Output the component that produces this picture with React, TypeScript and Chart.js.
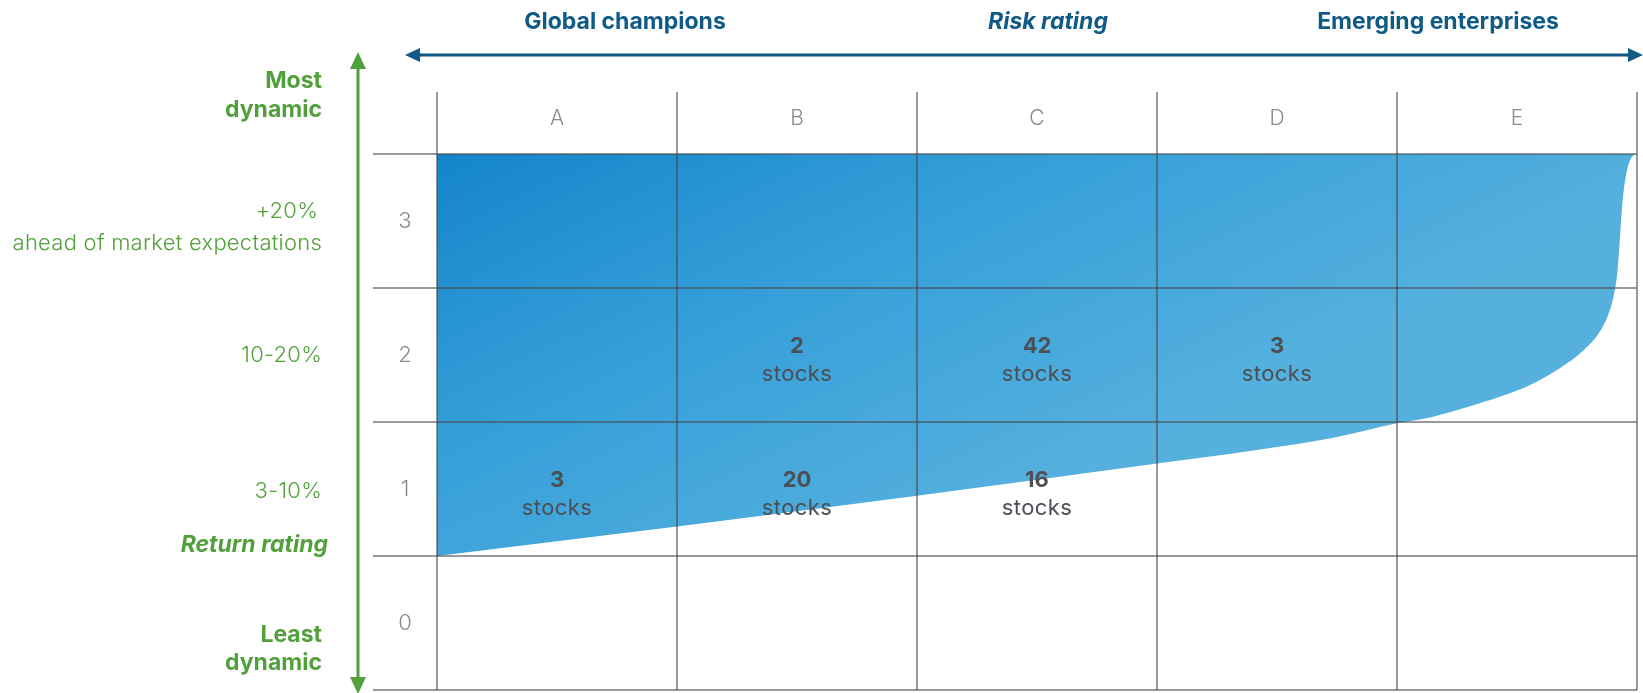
import React, { useEffect, useRef } from 'react';
import { Chart, registerables } from 'chart.js';

Chart.register(...registerables);

// ---- Data ----
const riskColumns = ['A', 'B', 'C', 'D', 'E'];
const returnRows = ['0', '1', '2', '3'];
// Lower boundary of the shaded band (x: risk column units, y: return row units)
const bandX = [0, 1, 2, 3, 3.6, 3.73, 4.0, 4.15, 4.29, 4.43, 4.57, 4.71, 4.78, 4.84, 4.88, 4.905, 4.92, 4.93, 4.94, 4.955, 4.97, 4.99];
const bandY = [1.0, 1.22, 1.45, 1.69, 1.84, 1.88, 1.99, 2.04, 2.11, 2.19, 2.29, 2.44, 2.54, 2.66, 2.8, 2.96, 3.15, 3.4, 3.65, 3.85, 3.95, 4.0];
const bandTop = 4;
// Stock counts per cell
const cellColumn = [1, 2, 3, 0, 1, 2];
const cellRow = [2, 2, 2, 1, 1, 1];
const cellCount = [2, 42, 3, 3, 20, 16];
const cellUnit = 'stocks';
// Axis texts
const topTitles = ['Global champions', 'Risk rating', 'Emerging enterprises'];
const sideLabels = ['Most', 'dynamic', '+20%', 'ahead of market expectations', '10-20%', '3-10%', 'Return rating', 'Least', 'dynamic'];

const FONT = 'Inter, "Noto Sans", sans-serif';
const GREEN = '#52a03c';
const NAVY = '#0f5a86';
const LABEL_GRAY = '#8a8a8a';
const CELL_GRAY = '#4b4f56';

const annotatePlugin = {
  id: 'annotate',
  afterDraw(chart: any) {
    const { ctx, chartArea, scales } = chart;
    const x = scales.x;
    const y = scales.y;
    ctx.save();

    // column letters in header row
    ctx.fillStyle = LABEL_GRAY;
    ctx.font = `300 21px ${FONT}`;
    ctx.textAlign = 'center';
    ctx.textBaseline = 'middle';
    const headerMid = (chartArea.top + y.getPixelForValue(bandTop)) / 2 - 4;
    riskColumns.forEach((c, i) => ctx.fillText(c, x.getPixelForValue(i + 0.5), headerMid));
    ctx.font = `300 22px ${FONT}`;
    const labelColMid = (chartArea.left + x.getPixelForValue(0)) / 2;
    returnRows.forEach((r, i) => ctx.fillText(r, labelColMid, y.getPixelForValue(i + 0.5)));

    // cell counts
    cellCount.forEach((n, i) => {
      const cx = x.getPixelForValue(cellColumn[i] + 0.5);
      const cy = y.getPixelForValue(cellRow[i] + 0.5);
      ctx.fillStyle = CELL_GRAY;
      (ctx as any).letterSpacing = '0px';
      ctx.font = `700 22px ${FONT}`;
      ctx.fillText(String(n), cx, cy - 9);
      (ctx as any).letterSpacing = '0.4px';
      ctx.font = `400 22px ${FONT}`;
      ctx.fillText(cellUnit, cx, cy + 19);
    });
    (ctx as any).letterSpacing = '0px';

    // top titles
    ctx.fillStyle = NAVY;
    ctx.textBaseline = 'alphabetic';
    ctx.textAlign = 'center';
    ctx.font = `700 23px ${FONT}`;
    ctx.fillText(topTitles[0], 625, 29);
    ctx.font = `italic 700 23px ${FONT}`;
    ctx.fillText(topTitles[1], 1048, 29);
    ctx.font = `700 23px ${FONT}`;
    ctx.fillText(topTitles[2], 1438, 29);

    // horizontal navy double arrow
    ctx.strokeStyle = NAVY;
    ctx.lineWidth = 3;
    ctx.beginPath();
    ctx.moveTo(418, 55);
    ctx.lineTo(1630, 55);
    ctx.stroke();
    ctx.beginPath();
    ctx.moveTo(405, 55);
    ctx.lineTo(420, 48);
    ctx.lineTo(420, 62);
    ctx.closePath();
    ctx.fill();
    ctx.beginPath();
    ctx.moveTo(1643, 55);
    ctx.lineTo(1628, 48);
    ctx.lineTo(1628, 62);
    ctx.closePath();
    ctx.fill();

    // vertical green double arrow
    ctx.strokeStyle = GREEN;
    ctx.fillStyle = GREEN;
    ctx.beginPath();
    ctx.moveTo(358, 66);
    ctx.lineTo(358, 680);
    ctx.stroke();
    ctx.beginPath();
    ctx.moveTo(358, 52);
    ctx.lineTo(350, 69);
    ctx.lineTo(366, 69);
    ctx.closePath();
    ctx.fill();
    ctx.beginPath();
    ctx.moveTo(358, 694);
    ctx.lineTo(350, 677);
    ctx.lineTo(366, 677);
    ctx.closePath();
    ctx.fill();

    // side labels
    ctx.textAlign = 'right';
    const rx = 322;
    ctx.font = `700 23px ${FONT}`;
    ctx.fillText(sideLabels[0], rx, 88);
    ctx.fillText(sideLabels[1], rx, 117);
    (ctx as any).letterSpacing = '0.25px';
    ctx.font = `300 22px ${FONT}`;
    ctx.fillText(sideLabels[2], rx - 4, 218);
    ctx.fillText(sideLabels[3], rx, 250);
    ctx.fillText(sideLabels[4], rx, 362);
    ctx.fillText(sideLabels[5], rx, 498);
    (ctx as any).letterSpacing = '0px';
    ctx.font = `italic 700 23px ${FONT}`;
    ctx.fillText(sideLabels[6], rx + 6, 552);
    ctx.font = `700 23px ${FONT}`;
    ctx.fillText(sideLabels[7], rx, 642);
    ctx.fillText(sideLabels[8], rx, 670);

    ctx.restore();
  },
};

export default function App() {
  const canvasRef = useRef<HTMLCanvasElement | null>(null);

  useEffect(() => {
    const canvas = canvasRef.current;
    if (!canvas) return;
    const chart = new Chart(canvas, {
      type: 'line',
      data: {
        datasets: [
          {
            data: bandX.map((v, i) => ({ x: v, y: bandY[i] })),
            borderWidth: 0,
            borderColor: 'rgba(0,0,0,0)',
            pointRadius: 0,
            cubicInterpolationMode: 'monotone',
            fill: { value: bandTop },
            backgroundColor: (c: any) => {
              const { chart: ch } = c;
              const area = ch.chartArea;
              if (!area) return '#2f9ad6';
              const cx = ch.scales.x.getPixelForValue(0);
              const cy = ch.scales.y.getPixelForValue(bandTop);
              const g = ch.ctx.createLinearGradient(cx, cy, cx + 247, cy + 510);
              g.addColorStop(0, '#1485ca');
              g.addColorStop(0.5, '#37a0d9');
              g.addColorStop(1, '#55b0de');
              return g;
            },
          },
        ],
      },
      options: {
        responsive: false,
        animation: false,
        devicePixelRatio: 1,
        layout: { padding: { left: 373, right: 6, top: 92, bottom: 3 } },
        plugins: { legend: { display: false }, tooltip: { enabled: false } },
        scales: {
          x: {
            type: 'linear',
            min: -64 / 240,
            max: riskColumns.length,
            afterBuildTicks: (s: any) => {
              s.ticks = riskColumns.map((_, i) => ({ value: i })).concat([{ value: riskColumns.length }]);
            },
            ticks: { display: false },
            border: { display: false },
            grid: { color: 'rgba(70,70,70,0.55)', lineWidth: 2, drawTicks: false, z: 1 },
          },
          y: {
            type: 'linear',
            min: 0,
            max: returnRows.length + 62 / 134,
            afterBuildTicks: (s: any) => {
              s.ticks = returnRows.map((_, i) => ({ value: i })).concat([{ value: returnRows.length }]);
            },
            ticks: { display: false },
            border: { display: false },
            grid: { color: 'rgba(70,70,70,0.55)', lineWidth: 2, drawTicks: false, z: 1 },
          },
        },
      },
      plugins: [annotatePlugin],
    } as any);
    return () => chart.destroy();
  }, []);

  return (
    <div style={{ position: 'absolute', left: 0, top: 0, width: 1643, height: 693, background: '#fff' }}>
      <canvas ref={canvasRef} width={1643} height={693} style={{ display: 'block' }} />
    </div>
  );
}
